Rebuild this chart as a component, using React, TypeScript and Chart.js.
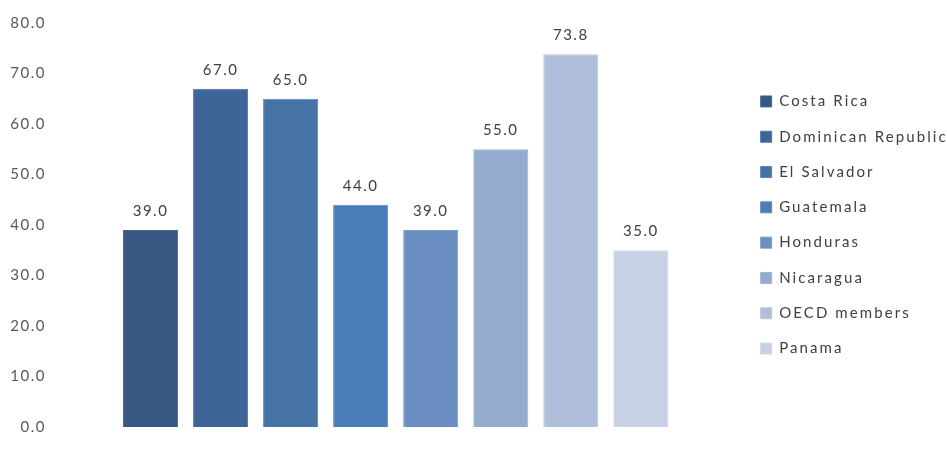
import { useEffect, useRef } from 'react';
import { Chart, registerables, ChartConfiguration, Plugin } from 'chart.js';

Chart.register(...registerables);

const countries = [
  'Costa Rica',
  'Dominican Republic',
  'El Salvador',
  'Guatemala',
  'Honduras',
  'Nicaragua',
  'OECD members',
  'Panama',
];
const values = [39.0, 67.0, 65.0, 44.0, 39.0, 55.0, 73.8, 35.0];
const colors = ['#365782', '#3E6596', '#4672A6', '#4A7CB5', '#6B8FC2', '#95AACF', '#AFBFD9', '#C8D0E3'];
const borders = ['#4A6A96', '#5277A8', '#5A84B8', '#5E8CC4', '#7C9CCB', '#A3B5D6', '#BAC8DF', '#D2D8E8'];

const FONT = 'Lato, "Open Sans", sans-serif';
const LETTER_SPACING = '1.5px';
const LEGEND_SPACING = '2.1px';

// canvas letter spacing, re-applied because resizing resets the context
const spacingPlugin: Plugin = {
  id: 'spacing',
  beforeLayout(chart) {
    (chart.ctx as any).letterSpacing = LETTER_SPACING;
  },
  beforeDraw(chart) {
    const ctx = chart.ctx as any;
    ctx.letterSpacing = LETTER_SPACING;
    const legend = (chart as any).legend;
    if (legend && !legend._spaced) {
      const draw = legend.draw.bind(legend);
      legend.draw = () => {
        ctx.letterSpacing = LEGEND_SPACING;
        draw();
        ctx.letterSpacing = LETTER_SPACING;
      };
      legend._spaced = true;
    }
  },
};

const valueLabels: Plugin = {
  id: 'valueLabels',
  afterDatasetsDraw(chart) {
    const { ctx } = chart;
    ctx.save();
    ctx.font = `15px ${FONT}`;
    ctx.fillStyle = '#404040';
    ctx.textAlign = 'center';
    ctx.textBaseline = 'alphabetic';
    chart.data.datasets.forEach((ds, i) => {
      chart.getDatasetMeta(i).data.forEach((bar, j) => {
        const v = ds.data[j] as number;
        ctx.fillText(v.toFixed(1), bar.x, bar.y - 14);
      });
    });
    ctx.restore();
  },
};

export default function App() {
  const canvasRef = useRef<HTMLCanvasElement>(null);
  const chartRef = useRef<Chart | null>(null);

  useEffect(() => {
    document.body.style.margin = '0';
    if (!canvasRef.current) return;

    const config: ChartConfiguration<'bar'> = {
      type: 'bar',
      data: {
        labels: [''],
        datasets: countries.map((name, i) => ({
          label: name,
          data: [values[i]],
          backgroundColor: colors[i],
          borderColor: borders[i],
          borderWidth: 1,
          categoryPercentage: 0.8128,
          barPercentage: 0.786,
        })),
      },
      options: {
        animation: false,
        responsive: true,
        maintainAspectRatio: false,
        layout: { padding: { top: 23, bottom: 24, left: 0, right: 0 } },
        plugins: {
          tooltip: { enabled: false },
          legend: {
            position: 'right',
            align: 'center',
            maxWidth: 207,
            labels: {
              boxWidth: 11,
              boxHeight: 11,
              padding: 20.3,
              color: '#404040',
              font: { family: FONT, size: 15 },
            },
          },
        },
        scales: {
          x: { display: false },
          y: {
            min: 0,
            max: 80,
            grid: { display: false, drawTicks: false },
            border: { display: false },
            afterFit: (scale) => {
              scale.width = 51;
            },
            ticks: {
              stepSize: 10,
              padding: 5,
              color: '#595959',
              font: { family: FONT, size: 15 },
              callback: (v) => Number(v).toFixed(1),
            },
          },
        },
      },
      plugins: [spacingPlugin, valueLabels],
    };

    chartRef.current = new Chart(canvasRef.current, config);
    return () => {
      chartRef.current?.destroy();
      chartRef.current = null;
    };
  }, []);

  return (
    <div style={{ position: 'relative', width: 947, height: 451, background: '#fff' }}>
      <canvas ref={canvasRef} />
    </div>
  );
}
